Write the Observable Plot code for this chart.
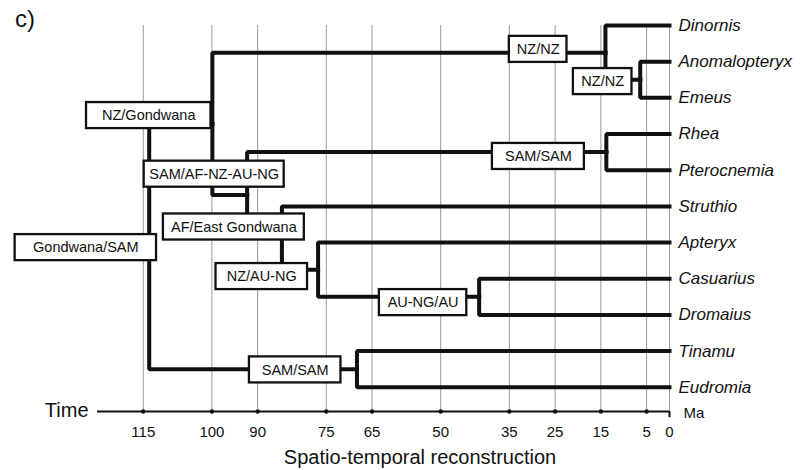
<!DOCTYPE html>
<html><head><meta charset="utf-8">
<script src="https://cdn.jsdelivr.net/npm/d3@7"></script>
<script src="https://cdn.jsdelivr.net/npm/@observablehq/plot@0.6"></script>
<style>
html,body{margin:0;padding:0;background:#fff;}
body{width:807px;height:470px;overflow:hidden;position:relative;font-family:"Liberation Sans",Arial,sans-serif;}
#chart{position:absolute;left:0;top:0;}
#panel{position:absolute;left:15px;top:7px;font-size:24px;line-height:24px;color:#111;}
#caption{position:absolute;left:0;top:447px;width:807px;padding-left:33px;box-sizing:border-box;text-align:center;font-size:20px;line-height:20px;color:#111;white-space:nowrap;}
</style></head><body>
<div id="chart"></div>
<div id="panel">c)</div>
<div id="caption">Spatio-temporal reconstruction</div>
<script>
// ---- data ----
const tipNames = ["Dinornis","Anomalopteryx","Emeus","Rhea","Pterocnemia","Struthio","Apteryx","Casuarius","Dromaius","Tinamu","Eudromia"];
const nodeIds = ["moa","anomEmeus","rheas","casDro","tinamous","kiwiCas","ostrichPlus","rheaPlus","moaPlus","root"];
const nodeAges = [14.0, 6.4, 13.8, 41.6, 68.3, 76.8, 84.7, 92.3, 99.9, 113.7];
const nodeChildren = [
  ["Dinornis","anomEmeus"],
  ["Anomalopteryx","Emeus"],
  ["Rhea","Pterocnemia"],
  ["Casuarius","Dromaius"],
  ["Tinamu","Eudromia"],
  ["Apteryx","casDro"],
  ["Struthio","kiwiCas"],
  ["rheas","ostrichPlus"],
  ["moa","rheaPlus"],
  ["moaPlus","tinamous"]
];
const eventLabels = ["Gondwana/SAM","NZ/Gondwana","SAM/AF-NZ-AU-NG","AF/East Gondwana","NZ/AU-NG","AU-NG/AU","SAM/SAM","SAM/SAM","NZ/NZ","NZ/NZ"];
const eventOlder   = [143.0, 127.4, 114.8, 110.6, 99.1, 63.4, 91.8, 38.7, 35.0, 21.0];
const eventYounger = [112.1, 100.2,  84.2,  79.8, 79.1, 44.3, 71.8, 18.6, 22.4,  8.2];
const eventRow     = [6.14, 2.49, 4.11, 5.57, 6.94, 7.66, 9.52, 3.62, 0.66, 1.55];
const timeTicks = [115,100,90,75,65,50,35,25,15,5,0];
const timeLabel = "Time";
const unitLabel = "Ma";

// ---- layout helpers ----
const axisRow = 10.67;
const half = 0.36;
const row = new Map(), age = new Map();
tipNames.forEach((n,i)=>{row.set(n,i); age.set(n,0);});
nodeIds.forEach((id,i)=>age.set(id,nodeAges[i]));
function rowOf(id){
  if(row.has(id)) return row.get(id);
  const i = nodeIds.indexOf(id);
  const r = d3.mean(nodeChildren[i], rowOf);
  row.set(id,r); return r;
}
nodeIds.forEach(rowOf);
const edges = [];
nodeIds.forEach((id,i)=>nodeChildren[i].forEach(c=>edges.push({p:id,c})));
const events = eventLabels.map((label,i)=>({label, x1:eventOlder[i], x2:eventYounger[i], row:eventRow[i]}));

const plot = Plot.plot({
  width:807, height:447,
  marginTop:25, marginBottom:36, marginLeft:97, marginRight:138,
  x:{domain:[125,0], axis:null},
  y:{domain:[0,axisRow], reverse:true, axis:null},
  style:{fontFamily:'"Liberation Sans", Arial, sans-serif', background:"transparent", color:"#111", overflow:"visible"},
  marks:[
    Plot.ruleX(timeTicks,{x:d=>d, y1:()=>0, y2:()=>axisRow, stroke:"#9a9a9a", strokeWidth:1}),
    Plot.link(edges,{x1:d=>age.get(d.p), y1:d=>row.get(d.p), x2:d=>age.get(d.c), y2:d=>row.get(d.c),
      curve:"step-before", stroke:"#111", strokeWidth:4, strokeLinecap:"square", strokeLinejoin:"miter"}),
    Plot.rect(events,{x1:"x1", x2:"x2", y1:d=>d.row-half, y2:d=>d.row+half, fill:"white", stroke:"#111", strokeWidth:2.3}),
    Plot.text(events,{x:d=>(d.x1+d.x2)/2, y:"row", text:"label", fontSize:14.5, fill:"#111"}),
    Plot.ruleY([axisRow],{x1:()=>125, x2:()=>0, stroke:"#111", strokeWidth:2.2}),
    Plot.ruleX([0],{x:d=>d, y1:()=>axisRow, y2:()=>axisRow+0.17, stroke:"#111", strokeWidth:2}),
    Plot.dot(timeTicks.filter(d=>d>0),{x:d=>d, y:()=>axisRow, r:2.2, fill:"#111"}),
    Plot.text(timeTicks,{x:d=>d, y:()=>axisRow, dy:21, text:d=>String(d), fontSize:15, fill:"#111"}),
    Plot.text([timeLabel],{x:()=>125, y:()=>axisRow, text:d=>d, textAnchor:"end", dx:-9, dy:-1, fontSize:20, fill:"#111"}),
    Plot.text([unitLabel],{x:()=>0, y:()=>axisRow, text:d=>d, textAnchor:"start", dx:14, dy:2, fontSize:15, fill:"#111"}),
    Plot.text(tipNames,{x:()=>0, y:(d,i)=>i, text:d=>d, textAnchor:"start", dx:9, fontSize:17, fontStyle:"italic", fill:"#111"})
  ]
});
document.getElementById("chart").append(plot);

// fit event labels inside their boxes
const xs = plot.scale("x");
d3.select(plot).selectAll("text").each(function(){
  const i = eventLabels.indexOf(this.textContent);
  if(i<0) return;
  const w = Math.abs(xs.apply(eventOlder[i]) - xs.apply(eventYounger[i])) - 8;
  if(this.getComputedTextLength() > w){
    this.setAttribute("textLength", w);
    this.setAttribute("lengthAdjust", "spacingAndGlyphs");
  }
});
</script>
</body></html>
